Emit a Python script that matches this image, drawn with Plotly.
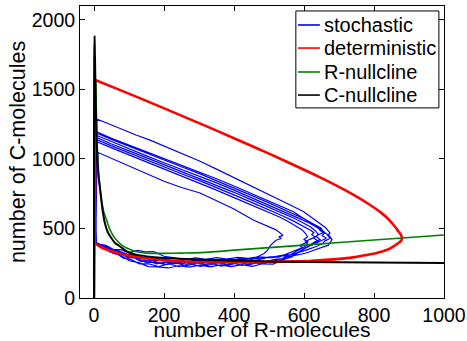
import plotly.graph_objects as go

# ---------------- data ----------------
# stochastic trajectory: start segment + 8 noisy cycles (R, C)
s0_R = [2, 2, 3, 3]
s0_C = [0, 140, 290, 400]

s1_R = [5, 6, 8, 40, 80, 120, 160, 210, 260, 303, 350, 400, 450, 500, 531, 565, 598, 620, 645, 662, 674,
        668, 676, 660, 654, 635, 612,
        590, 565, 540, 510, 480, 450, 420, 390, 360, 330, 300, 270, 240, 210, 180, 150, 120, 95, 70, 50, 30, 15, 6]
s1_C = [700, 1000, 1286, 1255, 1212, 1172, 1135, 1083, 1031, 983, 927, 867, 805, 747, 704, 664, 622, 583, 541, 505, 468,
        446, 430, 411, 394, 370, 350,
        331, 312, 308, 290, 292, 278, 284, 270, 278, 264, 274, 260, 270, 266, 284, 286, 306, 316, 338, 350, 374, 386, 400]

s2_R = [4, 5, 7, 50, 100, 150, 200, 250, 303, 350, 400, 450, 500, 540, 570, 589, 612, 635, 650, 660,
        652, 664, 648, 630, 615, 598,
        580, 560, 535, 505, 475, 445, 415, 385, 355, 325, 295, 265, 235, 205, 175, 148, 122, 98, 75, 52, 32, 16, 6]
s2_C = [650, 980, 1197, 1148, 1100, 1052, 1003, 955, 908, 858, 805, 750, 696, 652, 620, 588, 553, 520, 495, 470,
        448, 430, 412, 393, 372, 350,
        322, 292, 282, 256, 260, 240, 256, 236, 254, 234, 252, 232, 250, 240, 258, 256, 286, 292, 322, 336, 366, 378, 398]

s3_R = [5, 6, 8, 50, 100, 150, 200, 250, 303, 350, 400, 450, 500, 540, 570, 600, 622, 640, 650, 645,
        655, 638, 628, 640, 620, 600,
        585, 565, 540, 512, 482, 452, 422, 392, 362, 332, 302, 272, 242, 212, 182, 155, 128, 102, 78, 55, 34, 17, 7]
s3_C = [640, 960, 1185, 1140, 1090, 1040, 992, 944, 893, 845, 792, 738, 684, 640, 606, 570, 540, 515, 500, 488,
        470, 452, 430, 410, 385, 356,
        330, 296, 276, 244, 246, 228, 240, 226, 238, 224, 236, 222, 232, 216, 224, 226, 254, 266, 306, 320, 358, 370, 396]

s4_R = [4, 5, 7, 50, 100, 150, 200, 250, 303, 350, 400, 450, 500, 545, 580, 610, 635, 655, 672, 680,
        675, 670, 655, 640, 622, 604,
        585, 560, 530, 500, 470, 440, 410, 380, 350, 320, 290, 260, 230, 200, 170, 145, 125, 100, 78, 55, 34, 17, 6]
s4_C = [660, 990, 1170, 1125, 1072, 1022, 973, 925, 877, 828, 776, 722, 668, 620, 580, 546, 510, 478, 448, 420,
        398, 380, 368, 352, 338, 322,
        312, 300, 304, 290, 296, 286, 292, 280, 290, 278, 288, 276, 288, 300, 334, 332, 342, 326, 346, 350, 378, 386, 400]

s5_R = [5, 6, 8, 50, 100, 150, 200, 250, 303, 350, 400, 450, 500, 540, 570, 598, 618, 632, 640, 636,
        646, 630, 622, 608, 596, 580,
        565, 545, 520, 492, 462, 432, 402, 372, 342, 312, 282, 252, 222, 192, 162, 136, 112, 90, 68, 48, 30, 15, 6]
s5_C = [670, 950, 1155, 1108, 1058, 1008, 958, 908, 860, 812, 760, 706, 652, 608, 575, 540, 512, 484, 462, 440,
        420, 402, 388, 366, 344, 320,
        300, 280, 280, 262, 268, 258, 266, 252, 264, 250, 262, 248, 260, 250, 272, 272, 300, 304, 336, 344, 374, 380, 398]

s6_R = [4, 5, 7, 50, 100, 150, 200, 250, 303, 350, 400, 450, 500, 535, 565, 590, 608, 620, 628, 622,
        632, 615, 604, 612, 595, 578,
        560, 538, 512, 484, 454, 424, 394, 364, 334, 304, 274, 244, 214, 184, 156, 130, 106, 84, 64, 45, 28, 14, 5]
s6_C = [640, 930, 1140, 1094, 1043, 994, 944, 894, 842, 795, 742, 688, 635, 595, 560, 528, 505, 485, 470, 455,
        438, 420, 402, 385, 360, 335,
        310, 284, 274, 248, 252, 234, 252, 230, 250, 228, 248, 226, 246, 226, 246, 246, 276, 286, 320, 332, 366, 376, 397]

s7_R = [5, 6, 8, 50, 100, 150, 200, 250, 303, 350, 400, 450, 500, 530, 556, 578, 595, 605, 610, 600,
        612, 598, 588, 596, 580, 565,
        550, 528, 502, 474, 444, 414, 384, 354, 324, 294, 264, 234, 204, 176, 150, 126, 104, 84, 64, 46, 28, 14, 5]
s7_C = [660, 920, 1124, 1080, 1030, 980, 930, 876, 825, 776, 722, 670, 616, 582, 548, 518, 490, 462, 440, 420,
        404, 390, 378, 362, 345, 328,
        312, 294, 296, 278, 284, 273, 282, 270, 280, 268, 278, 266, 278, 270, 290, 288, 312, 316, 344, 350, 378, 382, 400]

s8_R = [6, 8, 12, 50, 100, 150, 200, 250, 303, 350, 400, 455, 500, 520, 531, 540, 528, 535, 520, 512,
        505, 500, 495, 485, 470, 455,
        440, 420, 400, 375, 350, 325, 300, 275, 250, 225, 200, 178, 156, 135, 115, 96, 80, 64, 50, 36, 24, 12, 5]
s8_C = [700, 900, 1046, 1005, 950, 895, 840, 795, 755, 700, 640, 561, 515, 490, 470, 450, 440, 428, 415, 398,
        380, 360, 340, 318, 300, 288,
        280, 268, 274, 256, 264, 254, 262, 250, 260, 248, 258, 246, 268, 262, 288, 290, 316, 320, 348, 352, 380, 382, 400]

# deterministic limit cycle
det_R = [3, 3, 3, 3, 3, 9, 136, 317, 408, 500, 580, 646, 720, 779, 820, 846, 860, 870, 877, 880, 879, 875, 869, 862,
         855, 836, 810, 779, 740, 683, 620, 550, 450, 317, 260, 212, 160, 117, 90, 69, 40, 20, 8, 3]
det_C = [395, 800, 1200, 1540, 1568, 1562, 1432, 1240, 1140, 1038, 946, 868, 772, 685, 614, 555, 512, 478, 455, 432,
         418, 405, 394, 382, 370, 345, 325, 309, 292, 278, 268, 262, 258, 257, 262, 268, 282, 297, 310, 322, 345, 365,
         385, 395]

# R-nullcline
rnull_R = [5, 7, 10, 15, 22, 29, 36, 45, 55, 65, 79, 95, 117, 140, 165, 200, 250, 303,
           400, 500, 600, 700, 800, 900, 1000]
rnull_C = [1560, 1300, 1050, 850, 700, 610, 561, 495, 447, 415, 381, 358, 336, 326, 321, 321, 323, 326,
           344, 362, 380, 399, 417, 435, 453]

# C-nullcline
cnull_R = [0, 0, 0.5, 1.5, 3, 5, 8, 12, 17, 24, 31, 40, 50, 60, 69, 80, 97, 120, 166, 200, 260, 350, 500, 700, 1000]
cnull_C = [0, 1000, 1700, 1880, 1700, 1400, 1090, 900, 790, 640, 540, 470, 430, 396, 380, 360, 331, 312, 295, 288,
           280, 272, 263, 257, 252]

x_ticks = [0, 200, 400, 600, 800, 1000]
y_ticks = [0, 500, 1000, 1500, 2000]
legend_labels = ["stochastic", "deterministic", "R-nullcline", "C-nullcline"]
colors = ["#0000ff", "#ff0000", "#008000", "#000000"]

# ---------------- build ----------------
stoch_R, stoch_C = [], []
for r, c in [(s0_R, s0_C), (s1_R, s1_C), (s2_R, s2_C), (s3_R, s3_C), (s4_R, s4_C),
             (s5_R, s5_C), (s6_R, s6_C), (s7_R, s7_C), (s8_R, s8_C)]:
    assert len(r) == len(c), (len(r), len(c))
    stoch_R += r
    stoch_C += c

FONT = "Liberation Sans, Arial, Helvetica, sans-serif"

fig = go.Figure()
fig.add_trace(go.Scatter(x=stoch_R, y=stoch_C, mode="lines", name=legend_labels[0],
                         line=dict(color=colors[0], width=1.2), showlegend=False))
fig.add_trace(go.Scatter(x=det_R, y=det_C, mode="lines", name=legend_labels[1],
                         line=dict(color=colors[1], width=2.6, shape="spline", smoothing=0.5), showlegend=False))
fig.add_trace(go.Scatter(x=rnull_R, y=rnull_C, mode="lines", name=legend_labels[2],
                         line=dict(color=colors[2], width=1.6, shape="spline", smoothing=0.6), showlegend=False))
fig.add_trace(go.Scatter(x=cnull_R, y=cnull_C, mode="lines", name=legend_labels[3],
                         line=dict(color=colors[3], width=2.0, shape="spline", smoothing=0.5), showlegend=False))

# custom MATLAB-like legend
lx0, lx1, ly0, ly1 = 0.593, 0.986, 0.651, 0.983
shapes = [dict(type="rect", xref="paper", yref="paper", x0=lx0, x1=lx1, y0=ly0, y1=ly1,
               line=dict(color="black", width=1), fillcolor="white", layer="above")]
annotations = []
row_y = [0.935, 0.856, 0.774, 0.695]
for lab, col, yy in zip(legend_labels, colors, row_y):
    shapes.append(dict(type="line", xref="paper", yref="paper", x0=0.599, x1=0.659, y0=yy, y1=yy,
                       line=dict(color=col, width=1.6), layer="above"))
    annotations.append(dict(xref="paper", yref="paper", x=0.664, y=yy, text=lab, showarrow=False,
                            xanchor="left", yanchor="middle", font=dict(family=FONT, size=20, color="black")))

fig.update_layout(
    width=467, height=341,
    margin=dict(l=80, r=23, t=6, b=43),
    paper_bgcolor="white", plot_bgcolor="white",
    font=dict(family=FONT, size=20, color="black"),
    shapes=shapes, annotations=annotations,
    showlegend=False,
)
fig.update_xaxes(range=[-40, 1000], tickvals=x_ticks, ticks="inside", ticklen=5, tickcolor="black",
                 showline=True, linecolor="black", linewidth=1, mirror="ticks", showgrid=False, zeroline=False,
                 tickfont=dict(family=FONT, size=19.5), automargin=False,
                 title=dict(text="number of R-molecules", font=dict(family=FONT, size=21), standoff=0))
fig.update_yaxes(range=[0, 2100], tickvals=y_ticks, ticks="inside", ticklen=5, tickcolor="black",
                 showline=True, linecolor="black", linewidth=1, mirror="ticks", showgrid=False, zeroline=False,
                 tickfont=dict(family=FONT, size=19.5), automargin=False,
                 title=dict(text="number of C-molecules", font=dict(family=FONT, size=21.5), standoff=0))

fig.write_html("out.html", config={"displayModeBar": False},
               post_script="document.body.style.margin='0';document.body.style.overflow='hidden';")
